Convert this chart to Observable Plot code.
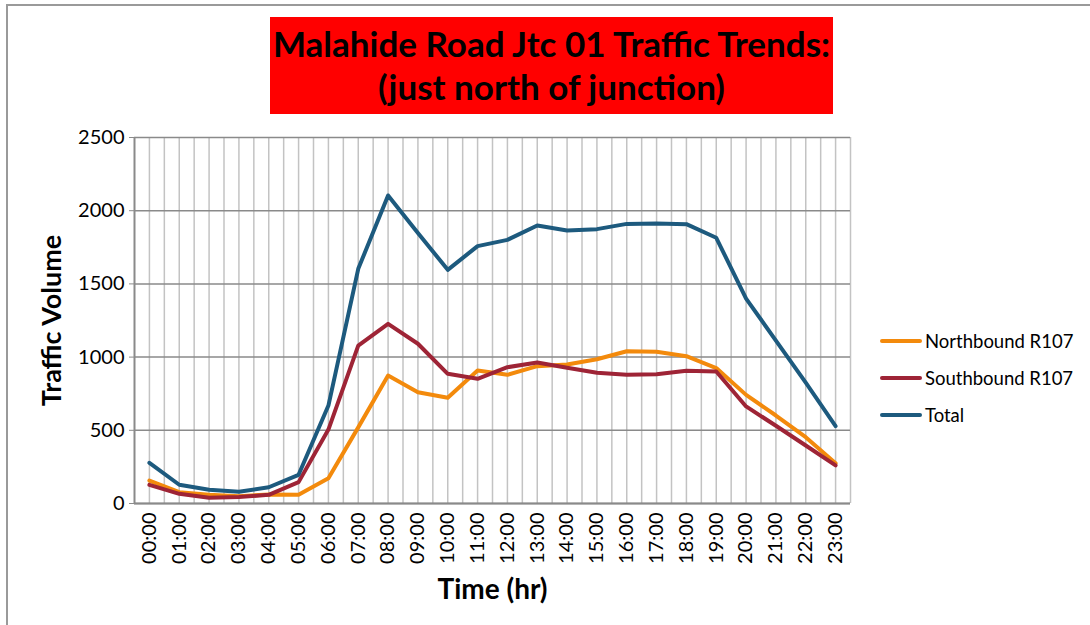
<!DOCTYPE html>
<html>
<head>
<meta charset="utf-8">
<script src="https://cdn.jsdelivr.net/npm/d3@7"></script>
<script src="https://cdn.jsdelivr.net/npm/@observablehq/plot@0.6"></script>
<style>
  html, body { margin: 0; padding: 0; background: #fff; }
  body { width: 1090px; height: 625px; overflow: hidden; position: relative; font-family: Lato, "Open Sans", sans-serif; }
  #frame { position: absolute; left: 6px; top: 4px; width: 1200px; height: 700px; border-top: 2px solid #9a9a9a; border-left: 2px solid #9a9a9a; }
  #chart { position: absolute; left: 0; top: 0; }
  #title { position: absolute; left: 270px; top: 17px; width: 563px; height: 97px; background: #ff0000; color: #000;
           font-weight: bold; font-size: 35px; line-height: 43px; text-align: center; padding-top: 5px; box-sizing: border-box; white-space: nowrap; }
  #legend { position: absolute; left: 880px; top: 322px; font-size: 18.5px; color: #000; }
  .item { display: flex; align-items: center; height: 37px; }
  .swatch { width: 42px; height: 4px; border-radius: 2px; margin-right: 3px; }
</style>
</head>
<body>
<div id="frame"></div>
<div id="chart"></div>
<div id="title">Malahide Road Jtc 01 Traffic Trends:<br>(just north of junction)</div>
<div id="legend"></div>
<script>
const hours = ["00:00","01:00","02:00","03:00","04:00","05:00","06:00","07:00","08:00","09:00","10:00","11:00",
               "12:00","13:00","14:00","15:00","16:00","17:00","18:00","19:00","20:00","21:00","22:00","23:00"];
const northbound = [157, 77, 60, 50, 62, 59, 173, 520, 874, 760, 722, 908, 879, 938, 950, 985, 1040, 1036, 1006, 925, 742, 601, 453, 275];
const southbound = [127, 66, 39, 44, 59, 146, 505, 1078, 1227, 1091, 886, 852, 931, 963, 927, 893, 879, 883, 906, 902, 663, 531, 396, 260];
const total = [278, 128, 94, 80, 111, 196, 669, 1603, 2104, 1848, 1596, 1758, 1801, 1899, 1865, 1874, 1910, 1912, 1908, 1815, 1400, 1113, 826, 528];
const seriesNames = ["Northbound R107", "Southbound R107", "Total"];
const seriesColors = ["#f38a0c", "#9e2436", "#1d5a7e"];
const yTicks = [0, 500, 1000, 1500, 2000, 2500];

const seriesValues = [northbound, southbound, total];
const rows = [];
seriesNames.forEach((name, s) => {
  seriesValues[s].forEach((v, i) => rows.push({series: name, i, hour: hours[i], value: v}));
});
const gridX = d3.range(0, hours.length * 2).map(k => k / 2);

const chart = Plot.plot({
  width: 1090,
  height: 625,
  marginLeft: 134,
  marginRight: 240,
  marginTop: 137,
  marginBottom: 122,
  style: {fontFamily: "Lato, 'Open Sans', sans-serif", fontSize: "20px", color: "#000", background: "transparent"},
  x: {type: "linear", domain: [-0.5, hours.length - 0.5]},
  y: {domain: [0, 2500]},
  color: {domain: seriesNames, range: seriesColors},
  marks: [
    Plot.ruleX(gridX, {stroke: "#c3c3c3", strokeWidth: 1.5}),
    Plot.ruleY(yTicks, {stroke: "#8a8a8a", strokeWidth: 1.5}),
    Plot.ruleX([-0.5], {stroke: "#8a8a8a", strokeWidth: 2}),
    Plot.ruleY([0], {stroke: "#8a8a8a", strokeWidth: 2}),
    Plot.axisY({ticks: yTicks, tickFormat: d => String(d), tickSize: 5, tickPadding: 5, label: null, stroke: "#8a8a8a", fill: "#000", fontSize: 20}),
    Plot.axisX({ticks: d3.range(hours.length), tickFormat: i => hours[i], tickRotate: -90, tickSize: 0, tickPadding: 9, label: null, fill: "#000", fontSize: 20}),
    Plot.line(rows, {x: "i", y: "value", z: "series", stroke: "series", strokeWidth: 4, strokeLinejoin: "round"}),
    Plot.text(["Traffic Volume"], {frameAnchor: "left", dx: -82, rotate: -90, textAnchor: "middle", lineAnchor: "middle", fontWeight: "bold", fontSize: 27, fill: "#000"}),
    Plot.text(["Time (hr)"], {frameAnchor: "bottom", dy: 87, textAnchor: "middle", lineAnchor: "middle", fontWeight: "bold", fontSize: 28, fill: "#000"})
  ]
});
document.getElementById("chart").appendChild(chart);

const legend = document.getElementById("legend");
seriesNames.forEach((name, s) => {
  const item = document.createElement("div");
  item.className = "item";
  const sw = document.createElement("div");
  sw.className = "swatch";
  sw.style.background = seriesColors[s];
  const label = document.createElement("span");
  label.textContent = name;
  item.appendChild(sw);
  item.appendChild(label);
  legend.appendChild(item);
});
</script>
</body>
</html>
